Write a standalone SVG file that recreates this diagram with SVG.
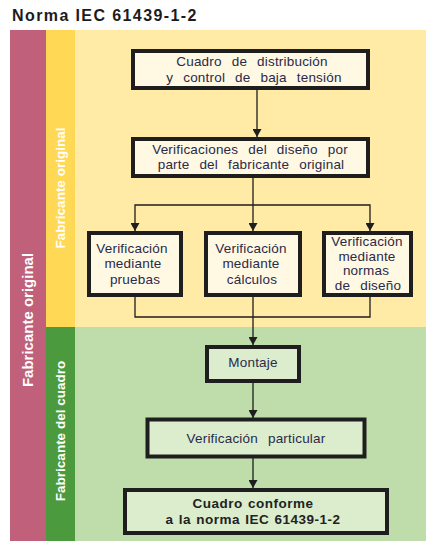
<svg xmlns="http://www.w3.org/2000/svg" width="426" height="541" viewBox="0 0 426 541">
  <style>
    .box { stroke: #1e1e1e; stroke-width: 4; }
    .boxY { fill: #FFF8E2; }
    .boxG { fill: #DBEDCD; }
    .t { font-family: "Liberation Sans", Arial, sans-serif; font-size: 13.5px; letter-spacing: 0.2px; fill: #2a2a4a; text-anchor: middle; }
    .tb { font-weight: bold; fill: #222222; letter-spacing: 0.5px; word-spacing: 1px; }
    .ws { word-spacing: 6px; }
    .side { font-family: "Liberation Sans", Arial, sans-serif; font-weight: bold; fill: #ffffff; text-anchor: middle; }
    .conn { fill: none; stroke: #1e1e1e; stroke-width: 1.3; }
  </style>
  <defs>
    <marker id="arrow" viewBox="0 0 8 9" refX="8" refY="4.5" markerWidth="8" markerHeight="9" markerUnits="userSpaceOnUse" orient="auto">
      <path d="M0,0 L8,4.5 L0,9 Z" fill="#1e1e1e"/>
    </marker>
  </defs>

  <rect width="426" height="541" fill="#ffffff"/>

  <!-- title -->
  <text x="12" y="21" font-family="Liberation Sans, Arial, sans-serif" font-weight="bold" font-size="16" letter-spacing="1.4" fill="#1c1c1c">Norma IEC 61439-1-2</text>

  <!-- bands -->
  <g id="bands">
    <rect x="75" y="30" width="351" height="297" fill="#FFEBA6"/>
    <rect x="75" y="327" width="351" height="214" fill="#BFDDAB"/>
    <rect x="10" y="30" width="36" height="511" fill="#C0607A"/>
    <rect x="46" y="30" width="29" height="297" fill="#FFD955"/>
    <rect x="46" y="327" width="29" height="214" fill="#4B9A3E"/>
    <text class="side" font-size="15" transform="translate(33,320) rotate(-90)">Fabricante original</text>
    <text class="side" font-size="13.5" fill="#FFF6D8" transform="translate(65,188) rotate(-90)">Fabricante original</text>
    <text class="side" font-size="13.5" transform="translate(65,431) rotate(-90)">Fabricante del cuadro</text>
  </g>

  <!-- connectors -->
  <g id="connectors">
    <line class="conn" x1="257" y1="90" x2="257" y2="137" marker-end="url(#arrow)"/>
    <line class="conn" x1="253" y1="178" x2="253" y2="231" marker-end="url(#arrow)"/>
    <polyline class="conn" points="253,205 135,205 135,231" marker-end="url(#arrow)"/>
    <polyline class="conn" points="253,205 370,205 370,231" marker-end="url(#arrow)"/>
    <polyline class="conn" points="135,297 135,317 370,317 370,297"/>
    <line class="conn" x1="253" y1="297" x2="253" y2="345" marker-end="url(#arrow)"/>
    <line class="conn" x1="253" y1="383" x2="253" y2="418" marker-end="url(#arrow)"/>
    <line class="conn" x1="253" y1="458" x2="253" y2="488" marker-end="url(#arrow)"/>
  </g>

  <g id="cuadro">
    <rect class="box boxY" x="133" y="51" width="235" height="37"/>
    <text class="t ws" x="252" y="66">Cuadro de distribución</text>
    <text class="t ws" x="254" y="82">y control de baja tensión</text>
  </g>

  <g id="verificaciones">
    <rect class="box boxY" x="133" y="139" width="235" height="37"/>
    <text class="t ws" x="250" y="154">Verificaciones del diseño por</text>
    <text class="t ws" x="251" y="169">parte del fabricante original</text>
  </g>

  <g id="pruebas">
    <rect class="box boxY" x="89" y="233" width="92" height="62"/>
    <text class="t" x="132" y="253">Verificación</text>
    <text class="t" x="133" y="268">mediante</text>
    <text class="t" x="135" y="284">pruebas</text>
  </g>

  <g id="calculos">
    <rect class="box boxY" x="206" y="233" width="94" height="62"/>
    <text class="t" x="251" y="253">Verificación</text>
    <text class="t" x="251" y="268">mediante</text>
    <text class="t" x="252" y="284">cálculos</text>
  </g>

  <g id="normas">
    <rect class="box boxY" x="324" y="233" width="87" height="62"/>
    <text class="t" x="367" y="246">Verificación</text>
    <text class="t" x="367" y="261">mediante</text>
    <text class="t" x="366" y="275">normas</text>
    <text class="t ws" x="368" y="290">de diseño</text>
  </g>

  <g id="montaje">
    <rect class="box boxG" x="207" y="347" width="92" height="34"/>
    <text class="t" x="253" y="367">Montaje</text>
  </g>

  <g id="particular">
    <rect class="box boxG" x="147.5" y="419.5" width="217" height="37" stroke-width="3"/>
    <text class="t ws" x="256" y="443">Verificación particular</text>
  </g>

  <g id="conforme">
    <rect class="box boxG" x="125" y="490" width="262" height="43"/>
    <text class="t tb" x="253" y="508">Cuadro conforme</text>
    <text class="t tb" x="253" y="524">a la norma IEC 61439-1-2</text>
  </g>
</svg>
